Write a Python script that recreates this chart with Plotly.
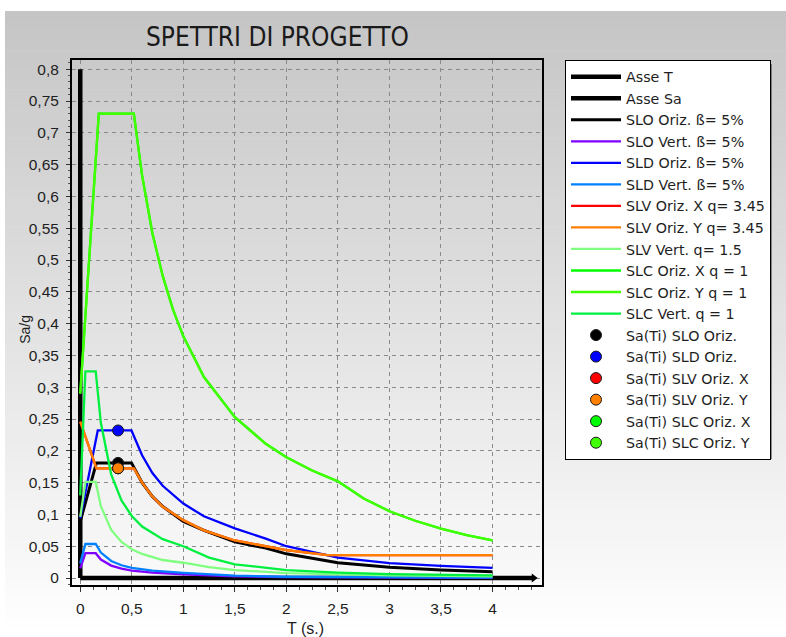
import plotly.graph_objects as go

# ---------------- data ----------------
AXIS_T_X = [0.0, 4.4]
AXIS_T_Y = [0.0, 0.0]
AXIS_SA_X = [0.0, 0.0]
AXIS_SA_Y = [0.0, 0.8]

T_SLO_OR = [0.0, 0.157, 0.497, 0.6, 0.7, 0.8, 1.0, 1.2, 1.5, 1.8, 2.0, 2.5, 3.0, 3.5, 4.0]
SA_SLO_OR = [0.089, 0.181, 0.181, 0.150, 0.128, 0.1125, 0.089, 0.075, 0.057, 0.047, 0.038, 0.024, 0.017, 0.0125, 0.0098]

T_SLO_VE = [0.0, 0.05, 0.15, 0.2, 0.3, 0.4, 0.5, 0.7, 1.0, 1.5, 2.0, 3.0, 4.0]
SA_SLO_VE = [0.015, 0.039, 0.039, 0.029, 0.0195, 0.0146, 0.0117, 0.0084, 0.0059, 0.0026, 0.0015, 0.00065, 0.0004]

T_SLD_OR = [0.0, 0.17, 0.497, 0.6, 0.7, 0.8, 1.0, 1.2, 1.5, 1.8, 2.0, 2.5, 3.0, 3.5, 4.0]
SA_SLD_OR = [0.094, 0.232, 0.232, 0.193, 0.165, 0.145, 0.117, 0.097, 0.078, 0.062, 0.050, 0.032, 0.0235, 0.019, 0.016]

T_SLD_VE = [0.0, 0.05, 0.15, 0.2, 0.3, 0.4, 0.5, 0.7, 1.0, 1.5, 2.0, 3.0, 4.0]
SA_SLD_VE = [0.023, 0.0535, 0.0535, 0.040, 0.0268, 0.020, 0.016, 0.0115, 0.008, 0.0036, 0.002, 0.0009, 0.0005]

T_SLV_OR = [0.0, 0.157, 0.52, 0.6, 0.7, 0.8, 1.0, 1.2, 1.5, 1.8, 2.0, 2.2, 2.4, 3.0, 3.5, 4.0]
SA_SLV_OR_X = [0.246, 0.1725, 0.1725, 0.150, 0.128, 0.112, 0.091, 0.075, 0.059, 0.050, 0.044, 0.040, 0.036, 0.036, 0.036, 0.036]
SA_SLV_OR_Y = [0.246, 0.1725, 0.1725, 0.150, 0.128, 0.112, 0.091, 0.075, 0.059, 0.050, 0.044, 0.040, 0.036, 0.036, 0.036, 0.036]

T_SLV_VE = [0.0, 0.05, 0.15, 0.2, 0.3, 0.4, 0.5, 0.6, 0.8, 1.0, 1.25, 1.5, 2.0, 2.5, 3.0, 3.5, 4.0]
SA_SLV_VE = [0.096, 0.151, 0.151, 0.113, 0.0755, 0.0566, 0.0453, 0.0378, 0.0283, 0.024, 0.017, 0.0125, 0.0078, 0.0055, 0.0042, 0.0032, 0.0026]

T_SLC_OR = [0.0, 0.18, 0.52, 0.6, 0.7, 0.8, 0.9, 1.0, 1.2, 1.5, 1.8, 2.0, 2.25, 2.5, 2.75, 3.0, 3.25, 3.5, 3.75, 4.0]
SA_SLC_OR_X = [0.29, 0.73, 0.73, 0.633, 0.542, 0.475, 0.422, 0.38, 0.316, 0.253, 0.211, 0.19, 0.169, 0.152, 0.125, 0.105, 0.09, 0.0775, 0.0675, 0.059]
SA_SLC_OR_Y = [0.29, 0.73, 0.73, 0.633, 0.542, 0.475, 0.422, 0.38, 0.316, 0.253, 0.211, 0.19, 0.169, 0.152, 0.125, 0.105, 0.09, 0.0775, 0.0675, 0.059]

T_SLC_VE = [0.0, 0.05, 0.15, 0.2, 0.3, 0.4, 0.5, 0.6, 0.8, 1.0, 1.25, 1.5, 2.0, 2.5, 3.0, 3.5, 4.0]
SA_SLC_VE = [0.13, 0.325, 0.325, 0.244, 0.163, 0.122, 0.0975, 0.081, 0.061, 0.050, 0.032, 0.0215, 0.0125, 0.0085, 0.0062, 0.0048, 0.004]

TI = 0.367
SA_TI_SLO = 0.181
SA_TI_SLD = 0.232
SA_TI_SLV_X = 0.1725
SA_TI_SLV_Y = 0.1725

X_TICKS = [0, 0.5, 1, 1.5, 2, 2.5, 3, 3.5, 4]
X_TICK_LABELS = ["0", "0,5", "1", "1,5", "2", "2,5", "3", "3,5", "4"]
Y_TICKS = [0, 0.05, 0.1, 0.15, 0.2, 0.25, 0.3, 0.35, 0.4, 0.45, 0.5, 0.55, 0.6, 0.65, 0.7, 0.75, 0.8]
Y_TICK_LABELS = ["0", "0,05", "0,1", "0,15", "0,2", "0,25", "0,3", "0,35", "0,4", "0,45",
                 "0,5", "0,55", "0,6", "0,65", "0,7", "0,75", "0,8"]

TITLE = "SPETTRI DI PROGETTO"

# ---------------- figure ----------------
FONT = "Liberation Sans, Arial, sans-serif"
LEG_FONT = "DejaVu Sans, Verdana, sans-serif"
fig = go.Figure()


def line(x, y, name, color, width=2.3):
    fig.add_trace(go.Scatter(x=x, y=y, mode="lines", name=name,
                             line=dict(color=color, width=width)))


def dot(x, y, name, color):
    fig.add_trace(go.Scatter(x=x, y=y, mode="markers", name=name,
                             marker=dict(color=color, size=11, symbol="circle",
                                         line=dict(color="#1a1a1a", width=1))))


line(AXIS_T_X, AXIS_T_Y, "Asse T", "black", 4.5)
line(AXIS_SA_X, AXIS_SA_Y, "Asse Sa", "black", 4.5)
line(T_SLO_OR, SA_SLO_OR, "SLO Oriz. ß= 5%", "black", 3)
line(T_SLO_VE, SA_SLO_VE, "SLO Vert. ß= 5%", "#8000ff")
line(T_SLD_OR, SA_SLD_OR, "SLD Oriz. ß= 5%", "#0000ff")
line(T_SLD_VE, SA_SLD_VE, "SLD Vert. ß= 5%", "#0080ff")
line(T_SLV_OR, SA_SLV_OR_X, "SLV Oriz. X q= 3.45", "#ff0000")
line(T_SLV_OR, SA_SLV_OR_Y, "SLV Oriz. Y q= 3.45", "#ff8000")
line(T_SLV_VE, SA_SLV_VE, "SLV Vert. q= 1.5", "#80ff80")
line(T_SLC_OR, SA_SLC_OR_X, "SLC Oriz. X q = 1", "#00ff00")
line(T_SLC_OR, SA_SLC_OR_Y, "SLC Oriz. Y q = 1", "#40ff00")
line(T_SLC_VE, SA_SLC_VE, "SLC Vert. q = 1", "#00f040")

dot([TI], [SA_TI_SLO], "Sa(Ti) SLO Oriz.", "#000000")
dot([TI], [SA_TI_SLD], "Sa(Ti) SLD Oriz.", "#0000ff")
dot([TI], [SA_TI_SLV_X], "Sa(Ti) SLV Oriz. X", "#ff0000")
dot([TI], [SA_TI_SLV_Y], "Sa(Ti) SLV Oriz. Y", "#ff8000")
dot([None], [None], "Sa(Ti) SLC Oriz. X", "#00ff00")
dot([None], [None], "Sa(Ti) SLC Oriz. Y", "#40ff00")

# arrow head at the end of the T axis
fig.add_trace(go.Scatter(x=[AXIS_T_X[-1]], y=[AXIS_T_Y[-1]], mode="markers", showlegend=False,
                         marker=dict(symbol="triangle-right", size=8, color="black")))

# ---------------- background gradient ----------------
shapes = []
N = 64
y_top, y_bot = 1.0933, -0.0990
for i in range(N):
    f0 = i / N
    f1 = (i + 1) / N
    g = int(round(197 + (255 - 197) * (f0 + 0.5 / N)))
    shapes.append(dict(type="rect", xref="paper", yref="paper", layer="below",
                       x0=-0.1426, x1=1.52, y0=y_top - (y_top - y_bot) * f1 - 0.001,
                       y1=y_top - (y_top - y_bot) * f0,
                       line=dict(width=0), fillcolor=f"rgb({g},{g},{g})"))
# legend shadow
shapes.append(dict(type="rect", xref="paper", yref="paper", layer="below",
                   x0=(569 - 72) / 470, x1=(772 - 72) / 470,
                   y0=(585 - 459) / 525, y1=(585 - 64) / 525,
                   line=dict(width=0), fillcolor="rgba(60,60,60,0.55)"))

fig.update_layout(
    width=786, height=637,
    margin=dict(l=72, r=244, t=60, b=52, pad=0),
    paper_bgcolor="white",
    plot_bgcolor="rgba(0,0,0,0)",
    font=dict(family=FONT, size=14, color="#1e1e1e"),
    shapes=shapes,
    showlegend=True,
    legend=dict(x=(565 - 72) / 470, y=1.0, xanchor="left", yanchor="top",
                bgcolor="white", bordercolor="black", borderwidth=1,
                font=dict(family=LEG_FONT, size=14.25, color="#1e1e1e"),
                itemwidth=50, tracegroupgap=0),
    annotations=[
        dict(text=TITLE, xref="paper", yref="paper", x=0.437, y=1.044,
             xanchor="center", yanchor="middle", showarrow=False,
             font=dict(family="Liberation Sans Narrow, DejaVu Sans Condensed, Liberation Sans, Arial",
                       size=26, color="#1a1a1a")),
        dict(text="Sa/g", xref="paper", yref="paper", x=-0.1, y=0.486,
             xanchor="center", yanchor="middle", showarrow=False, textangle=-90,
             font=dict(family=FONT, size=14, color="#1e1e1e")),
        dict(text="T (s.)", xref="paper", yref="paper", x=0.496, y=-0.082,
             xanchor="center", yanchor="middle", showarrow=False,
             font=dict(family=FONT, size=16, color="#1e1e1e")),
    ],
)

fig.update_xaxes(
    range=[-0.08, 4.48], showgrid=True, gridcolor="#8a8a8a", griddash="4px,4px", gridwidth=1,
    zeroline=False, showline=True, mirror=True, linecolor="black", linewidth=2,
    tickmode="array", tickvals=X_TICKS, ticktext=X_TICK_LABELS,
    ticks="outside", ticklen=5, tickcolor="#333", tickwidth=1,
    tickfont=dict(family=FONT, size=15.5, color="#1e1e1e"), ticklabelstandoff=3,
    minor=dict(dtick=0.125, tick0=0, ticks="outside", ticklen=3, tickcolor="#555", showgrid=False),
)
fig.update_yaxes(
    range=[-0.011, 0.8145], showgrid=True, gridcolor="#8a8a8a", griddash="4px,4px", gridwidth=1,
    zeroline=False, showline=True, mirror=True, linecolor="black", linewidth=2,
    tickmode="array", tickvals=Y_TICKS, ticktext=Y_TICK_LABELS,
    ticks="outside", ticklen=4, tickcolor="#333", tickwidth=1,
    tickfont=dict(family=FONT, size=15.5, color="#1e1e1e"), ticklabelstandoff=4,
    minor=dict(dtick=0.01, tick0=0, ticks="outside", ticklen=2, tickcolor="#555", showgrid=False),
)

fig.write_html("out.html", config={"displayModeBar": False},
               post_script="document.body.style.margin='0px';document.body.style.overflow='hidden';")
